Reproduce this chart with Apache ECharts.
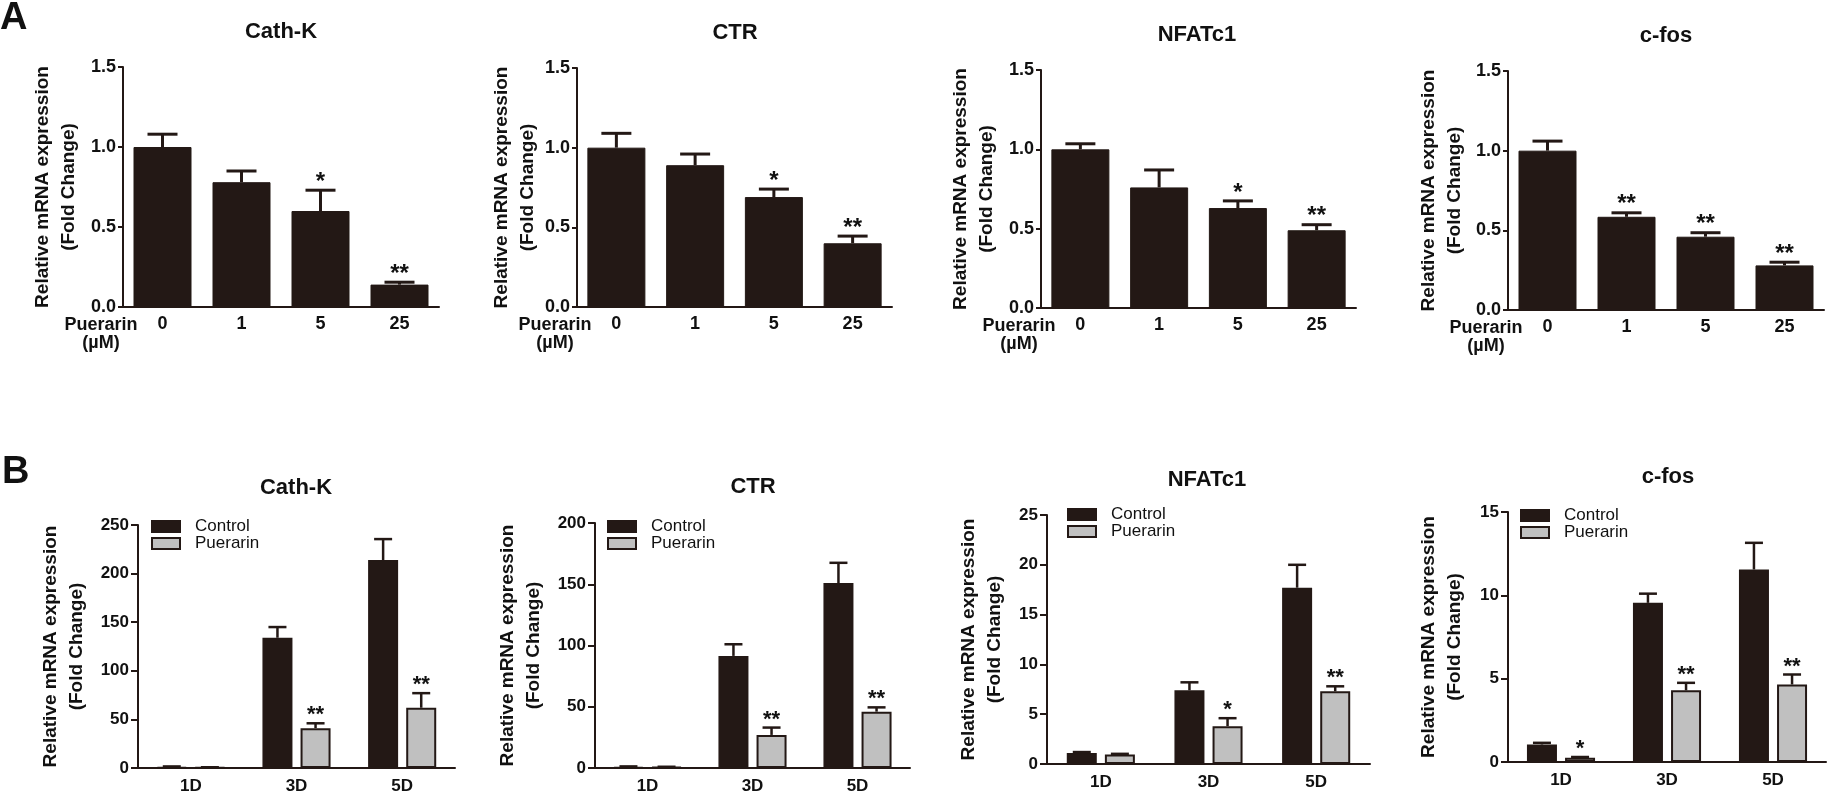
<!DOCTYPE html>
<html>
<head>
<meta charset="utf-8">
<script src="https://cdn.jsdelivr.net/npm/echarts@6/dist/echarts.min.js"></script>
<style>
  html, body { margin: 0; background: #fff; }
  #chart { width: 1831px; height: 794px; }
</style>
</head>
<body>
<div id="chart"></div>
<script>
// Panel A: expression vs puerarin dose (µM), mean and SEM
const doseLabels = ['0', '1', '5', '25'];
const cathkDose = [1.00, 0.78, 0.60, 0.14];
const cathkDoseSem = [0.08, 0.07, 0.13, 0.015];
const cathkDoseSig = ['', '', '*', '**'];
const ctrDose = [1.00, 0.89, 0.69, 0.40];
const ctrDoseSem = [0.09, 0.07, 0.05, 0.045];
const ctrDoseSig = ['', '', '*', '**'];
const nfatDose = [1.00, 0.76, 0.63, 0.49];
const nfatDoseSem = [0.035, 0.11, 0.045, 0.035];
const nfatDoseSig = ['', '', '*', '**'];
const cfosDose = [1.00, 0.585, 0.46, 0.28];
const cfosDoseSem = [0.06, 0.025, 0.025, 0.02];
const cfosDoseSig = ['', '**', '**', '**'];
const doseTicks = [0, 0.5, 1.0, 1.5];

// Panel B: time course, control vs puerarin
const dayLabels = ['1D', '3D', '5D'];
const cathkCtrl = [1.2, 134, 214];
const cathkCtrlSem = [0.4, 11, 21.5];
const cathkPue = [0.6, 41, 62];
const cathkPueSem = [0.2, 5, 15];
const cathkPueSig = ['', '**', '**'];
const ctrCtrl = [1.0, 91.5, 151];
const ctrCtrlSem = [0.3, 9.5, 16.5];
const ctrPue = [0.8, 27, 46];
const ctrPueSem = [0.2, 6, 3.5];
const ctrPueSig = ['', '**', '**'];
const nfatCtrl = [1.1, 7.4, 17.7];
const nfatCtrlSem = [0.1, 0.8, 2.3];
const nfatPue = [0.95, 3.8, 7.3];
const nfatPueSem = [0.07, 0.8, 0.5];
const nfatPueSig = ['', '*', '**'];
const cfosCtrl = [1.05, 9.55, 11.55];
const cfosCtrlSem = [0.1, 0.55, 1.6];
const cfosPue = [0.25, 4.3, 4.65];
const cfosPueSem = [0.05, 0.45, 0.6];
const cfosPueSig = ['*', '**', '**'];
const yMaxB = [250, 200, 25, 15];
const yStepB = [50, 50, 5, 5];

const FONT = '"Liberation Sans", Arial, Helvetica, sans-serif';
const DARK = '#231815';
const GREY = '#c0c0c0';
const INK = '#111';
const Y_NAME = 'Relative mRNA expression\n(Fold Change)';

const panelsA = [
  { title: 'Cath-K', mean: cathkDose, sem: cathkDoseSem, sig: cathkDoseSig,
    grid: { left: 123, top: 67, width: 316, height: 240 }, head: [281, 32], nameGap: 41 },
  { title: 'CTR', mean: ctrDose, sem: ctrDoseSem, sig: ctrDoseSig,
    grid: { left: 577, top: 68, width: 315, height: 239 }, head: [735, 33], nameGap: 36 },
  { title: 'NFATc1', mean: nfatDose, sem: nfatDoseSem, sig: nfatDoseSig,
    grid: { left: 1041, top: 70, width: 315, height: 238 }, head: [1197, 35], nameGap: 41 },
  { title: 'c-fos', mean: cfosDose, sem: cfosDoseSem, sig: cfosDoseSig,
    grid: { left: 1508, top: 71, width: 316, height: 239 }, head: [1666, 36], nameGap: 40 },
];

const panelsB = [
  { title: 'Cath-K', ctrl: cathkCtrl, ctrlSem: cathkCtrlSem, pue: cathkPue, pueSem: cathkPueSem, sig: cathkPueSig,
    grid: { left: 138, top: 525, width: 317, height: 243 }, head: [296, 488], nameGap: 48, legend: [151, 518] },
  { title: 'CTR', ctrl: ctrCtrl, ctrlSem: ctrCtrlSem, pue: ctrPue, pueSem: ctrPueSem, sig: ctrPueSig,
    grid: { left: 595, top: 523, width: 315, height: 245 }, head: [753, 487], nameGap: 48, legend: [607, 518] },
  { title: 'NFATc1', ctrl: nfatCtrl, ctrlSem: nfatCtrlSem, pue: nfatPue, pueSem: nfatPueSem, sig: nfatPueSig,
    grid: { left: 1047, top: 515, width: 323, height: 249 }, head: [1207, 480], nameGap: 39, legend: [1067, 506] },
  { title: 'c-fos', ctrl: cfosCtrl, ctrlSem: cfosCtrlSem, pue: cfosPue, pueSem: cfosPueSem, sig: cfosPueSig,
    grid: { left: 1508, top: 512, width: 318, height: 250 }, head: [1668, 477], nameGap: 40, legend: [1520, 507] },
];

const BAR_B = 30;
const GAP_B = 0.27;

function heading(text, x, y, size, align) {
  return {
    text, left: x, top: y - size / 2, textAlign: align, padding: 0,
    textStyle: { fontSize: size, fontWeight: 'bold', fontFamily: FONT, color: INK },
  };
}

// mean + SEM whisker (upward only) and significance stars
function errorSeries(idx, mean, sem, sig, offset, cap, lw, starSize) {
  return {
    type: 'custom', xAxisIndex: idx, yAxisIndex: idx, z: 5, silent: true,
    data: mean.map((m, i) => [i, m, m + sem[i]]),
    renderItem: (params, api) => {
      const i = api.value(0);
      const base = api.coord([i, api.value(1)]);
      const top = api.coord([i, api.value(2)]);
      const x = base[0] + offset;
      const stroke = { stroke: DARK, lineWidth: lw };
      const children = [
        { type: 'line', shape: { x1: x, y1: base[1], x2: x, y2: top[1] }, style: stroke },
        { type: 'line', shape: { x1: x - cap / 2, y1: top[1], x2: x + cap / 2, y2: top[1] }, style: stroke },
      ];
      const s = sig ? sig[params.dataIndex] : '';
      if (s) {
        children.push({
          type: 'text', x, y: top[1] - 8,
          style: { text: s, font: `bold ${starSize}px ${FONT}`, fill: INK, align: 'center', verticalAlign: 'middle' },
        });
      }
      return { type: 'group', children };
    },
  };
}

function yAxisFor(idx, max, step, nameGap, fmt, labelSize, tickLen, margin) {
  return {
    type: 'value', gridIndex: idx, min: 0, max, interval: step,
    name: Y_NAME, nameLocation: 'middle', nameRotate: 90, nameGap, nameMoveOverlap: false,
    nameTextStyle: { fontSize: 19, fontWeight: 'bold', fontFamily: FONT, color: INK, lineHeight: 26 },
    axisLine: { show: true, lineStyle: { color: DARK, width: 2 } },
    axisTick: { show: true, length: tickLen, lineStyle: { color: DARK, width: 2 } },
    axisLabel: { margin, fontSize: labelSize, fontWeight: 'bold', fontFamily: FONT, color: INK, formatter: fmt },
    splitLine: { show: false },
  };
}

const option = {
  animation: false,
  backgroundColor: '#fff',
  title: [heading('A', 0, 19, 38, 'left'), heading('B', 2, 473, 38, 'left')],
  grid: [], xAxis: [], yAxis: [], legend: [], series: [],
};

panelsA.forEach((p, i) => {
  option.title.push(heading(p.title, p.head[0], p.head[1], 22, 'center'));
  option.grid.push(Object.assign({ outerBoundsMode: 'none', containLabel: false }, p.grid));
  option.xAxis.push({
    type: 'category', gridIndex: i, data: doseLabels,
    name: 'Puerarin\n(µM)', nameLocation: 'start', nameGap: 22, nameMoveOverlap: false,
    nameTextStyle: { fontSize: 18, fontWeight: 'bold', fontFamily: FONT, color: INK,
      align: 'center', verticalAlign: 'top', lineHeight: 18, padding: [9, 0, 0, 0] },
    axisLine: { lineStyle: { color: DARK, width: 2 } },
    axisTick: { alignWithLabel: true, length: 5, lineStyle: { color: DARK, width: 2 } },
    axisLabel: { margin: 8, fontSize: 18, fontWeight: 'bold', fontFamily: FONT, color: INK },
  });
  option.yAxis.push(yAxisFor(i, doseTicks[doseTicks.length - 1], doseTicks[1] - doseTicks[0], p.nameGap,
    (v) => v.toFixed(1), 18, 5, 7));
  option.series.push({
    type: 'bar', name: p.title, xAxisIndex: i, yAxisIndex: i, data: p.mean, barWidth: 58,
    itemStyle: { color: DARK, borderColor: DARK, borderWidth: 1 },
  });
  option.series.push(errorSeries(i, p.mean, p.sem, p.sig, 0, 30, 3, 24));
});

panelsB.forEach((p, j) => {
  const i = j + 4;
  option.title.push(heading(p.title, p.head[0], p.head[1], 22, 'center'));
  option.grid.push(Object.assign({ outerBoundsMode: 'none', containLabel: false }, p.grid));
  option.xAxis.push({
    type: 'category', gridIndex: i, data: dayLabels,
    axisLine: { lineStyle: { color: DARK, width: 2 } },
    axisTick: { alignWithLabel: true, length: 6, lineStyle: { color: DARK, width: 2 } },
    axisLabel: { margin: 10, fontSize: 17, fontWeight: 'bold', fontFamily: FONT, color: INK },
  });
  option.yAxis.push(yAxisFor(i, yMaxB[j], yStepB[j], p.nameGap, (v) => String(v), 17, 7, 9));
  option.legend.push({
    left: p.legend[0], top: p.legend[1], orient: 'vertical', padding: 0, itemGap: 0,
    itemWidth: 28, itemHeight: 11, icon: 'rect', selectedMode: false,
    data: ['Control', 'Puerarin'],
    textStyle: { fontSize: 17, fontFamily: FONT, color: INK, lineHeight: 17, padding: [0, 0, 0, 10] },
  });
  option.series.push({
    type: 'bar', name: 'Control', xAxisIndex: i, yAxisIndex: i, data: p.ctrl,
    barWidth: BAR_B, barGap: GAP_B * 100 + '%',
    itemStyle: { color: DARK, borderColor: DARK, borderWidth: 1.5 },
  });
  option.series.push({
    type: 'bar', name: 'Puerarin', xAxisIndex: i, yAxisIndex: i, data: p.pue,
    barWidth: BAR_B, barGap: GAP_B * 100 + '%',
    itemStyle: { color: GREY, borderColor: DARK, borderWidth: 2 },
  });
  const off = BAR_B * (1 + GAP_B) / 2;
  option.series.push(errorSeries(i, p.ctrl, p.ctrlSem, null, -off, 18, 2.5, 22));
  option.series.push(errorSeries(i, p.pue, p.pueSem, p.sig, off, 18, 2.5, 22));
});

const chart = echarts.init(document.getElementById('chart'));
chart.setOption(option);
window.addEventListener('resize', () => chart.resize());
</script>
</body>
</html>
